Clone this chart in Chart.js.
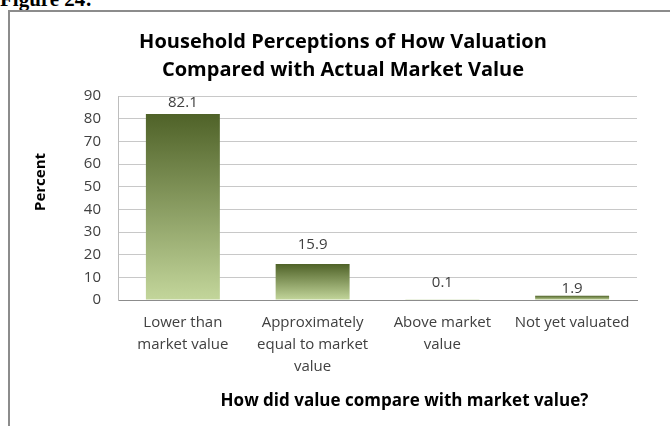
<!DOCTYPE html>
<html>
<head>
<meta charset="utf-8">
<script src="https://cdn.jsdelivr.net/npm/chart.js@4.4.0/dist/chart.umd.min.js"></script>
<style>
html, body { margin: 0; padding: 0; background: #fff; overflow: hidden; }
#wrap { position: relative; width: 670px; height: 426px; overflow: hidden; }
#legenda { position: absolute; left: 0; top: -11px; font: bold 21px "Liberation Serif"; line-height: 21px; color: #000; white-space: nowrap; }
#moldura { position: absolute; left: 8px; top: 10px; width: 700px; height: 500px; border-top: 2px solid #8c8c8c; border-left: 2px solid #8c8c8c; }
canvas { position: absolute; left: 0; top: 0; }
</style>
</head>
<body>
<div id="wrap">
    <div id="legenda">Figure 24:</div>
    <div id="moldura"></div>
    <canvas id="grafico" width="670" height="426"></canvas>
</div>
<script>
// dados
const categorias = [
    ['Lower than', 'market value'],
    ['Approximately', 'equal to market', 'value'],
    ['Above market', 'value'],
    ['Not yet valuated']
];
const percentuais = [82.1, 15.9, 0.1, 1.9];
const eixoYMin = 0;
const eixoYMax = 90;
const eixoYPasso = 10;
const tituloGrafico = ['Household Perceptions of How Valuation', 'Compared with Actual Market Value'];
const tituloY = 'Percent';
const tituloX = 'How did value compare with market value?';

// distancia do rotulo ate o topo da barra (posicionados a mao no original)
const deslocRotulo = [11, 19, 17, 7];

const fonte = '"Open Sans"';

function corBarra(c) {
    const y = c.chart.scales.y;
    if (!y || c.type !== 'data') return '#8aa05c';
    const topo = y.getPixelForValue(c.raw);
    const base = y.getPixelForValue(0);
    if (!isFinite(topo) || !isFinite(base) || base - topo < 0.5) return '#b9cd8f';
    const g = c.chart.ctx.createLinearGradient(0, topo, 0, base);
    g.addColorStop(0, '#4f6228');
    g.addColorStop(1, '#c3d69b');
    return g;
}

const rotulosValor = {
    id: 'rotulosValor',
    afterDatasetsDraw(chart) {
        const ctx = chart.ctx;
        const meta = chart.getDatasetMeta(0);
        ctx.save();
        ctx.font = '15px ' + fonte;
        ctx.fillStyle = '#404040';
        ctx.textAlign = 'center';
        ctx.textBaseline = 'middle';
        meta.data.forEach((barra, i) => {
            ctx.fillText(percentuais[i].toFixed(1), barra.x, barra.y - deslocRotulo[i]);
        });
        ctx.restore();
    }
};

const titulosEixos = {
    id: 'titulosEixos',
    afterDraw(chart) {
        const ctx = chart.ctx;
        const area = chart.chartArea;
        ctx.save();
        ctx.fillStyle = '#000';
        ctx.textAlign = 'center';
        ctx.textBaseline = 'middle';
        ctx.font = 'bold 15px ' + fonte;
        ctx.translate(41, area.top + 86);
        ctx.rotate(-Math.PI / 2);
        ctx.fillText(tituloY, 0, 0);
        ctx.restore();

        ctx.save();
        ctx.fillStyle = '#000';
        ctx.textAlign = 'center';
        ctx.textBaseline = 'middle';
        ctx.font = 'bold 17px ' + fonte;
        ctx.fillText(tituloX, (area.left + area.right) / 2 + 27, 401);
        ctx.restore();
    }
};

const ctx = document.getElementById('grafico').getContext('2d');
const grafico = new Chart(ctx, {
    type: 'bar',
    data: {
        labels: categorias,
        datasets: [{
            data: percentuais,
            backgroundColor: corBarra,
            borderWidth: 0,
            barPercentage: 0.57,
            categoryPercentage: 1
        }]
    },
    options: {
        responsive: false,
        animation: false,
        layout: { padding: { left: 49, right: 33, top: 28, bottom: 0 } },
        scales: {
            x: {
                grid: { display: false, drawTicks: false },
                border: { display: true, color: '#8c8c8c', width: 1 },
                ticks: {
                    color: '#404040',
                    font: { family: fonte, size: 15, lineHeight: 22 / 15 },
                    padding: 12,
                    maxRotation: 0,
                    autoSkip: false
                },
                afterFit(scale) { scale.height = 126; }
            },
            y: {
                min: eixoYMin,
                max: eixoYMax,
                grid: { color: '#c8c8c8', drawTicks: false },
                border: { display: true, color: '#bdbdbd' },
                ticks: {
                    stepSize: eixoYPasso,
                    color: '#404040',
                    font: { family: fonte, size: 15 },
                    padding: 17
                },
                afterFit(scale) { scale.width = 69; }
            }
        },
        plugins: {
            legend: { display: false },
            tooltip: { enabled: false },
            title: {
                display: true,
                text: tituloGrafico,
                color: '#000',
                font: { family: fonte, size: 20, weight: 'bold', lineHeight: 28 / 20 },
                padding: { top: 0, bottom: 12 }
            }
        }
    },
    plugins: [rotulosValor, titulosEixos]
});
</script>
</body>
</html>
